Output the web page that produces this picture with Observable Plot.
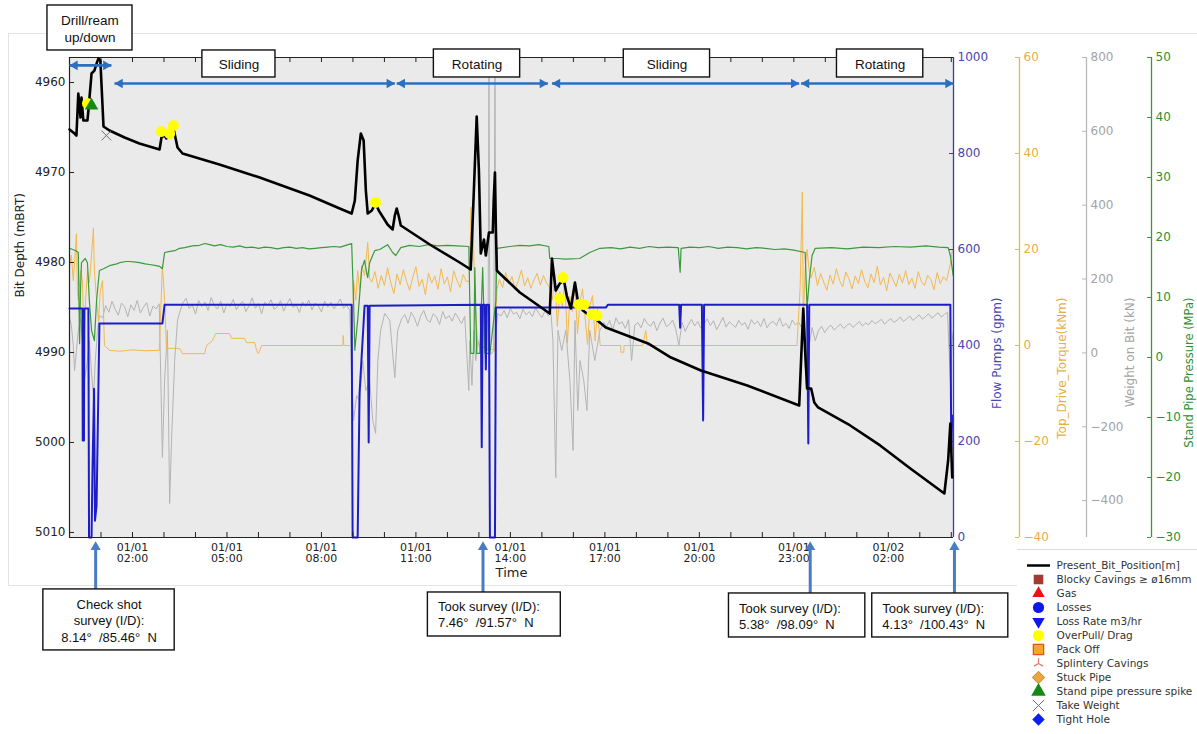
<!DOCTYPE html>
<html><head><meta charset="utf-8">
<script src="https://cdn.jsdelivr.net/npm/d3@7"></script>
<script src="https://cdn.jsdelivr.net/npm/@observablehq/plot@0.6"></script>
<style>
html,body{margin:0;padding:0;background:#fff;}
#chart{position:relative;width:1197px;height:734px;overflow:hidden;background:#fff;font-family:"DejaVu Sans",sans-serif;}
#chart svg{position:absolute;left:0;top:0;}
#figbox{position:absolute;left:8px;top:33px;width:1189px;height:553px;border:1px solid #e4e4e4;border-right:none;box-sizing:border-box;}
</style></head>
<body><div id="chart"><div id="figbox"></div></div>
<script>
// ================= DATA (time in hours after 01/01 00:00) =================
const depthSeries = [[0,4965.22],[0.16,4965.67],[0.22,4965.89],[0.28,4961.22],[0.35,4963.89],[0.38,4961.67],[0.44,4964.22],[0.57,4964.22],[0.60,4963.11],[0.70,4959.0],[0.79,4958.67],[0.86,4957.89],[0.92,4957.33],[0.98,4957.56],[1.08,4964.89],[1.27,4965.33],[1.75,4966.11],[2.22,4966.78],[2.86,4967.44],[2.92,4966.11],[3.02,4965.89],[3.08,4966.22],[3.18,4965.56],[3.27,4964.56],[3.43,4967.22],[3.59,4967.89],[4.76,4969.11],[6.04,4970.56],[7.62,4972.56],[8.58,4974.0],[8.96,4974.56],[9.06,4973.11],[9.15,4968.67],[9.25,4965.67],[9.34,4966.44],[9.41,4972.0],[9.47,4974.56],[9.60,4974.22],[9.72,4973.44],[9.82,4974.22],[10.10,4975.78],[10.26,4976.33],[10.33,4974.78],[10.39,4974.0],[10.45,4974.78],[10.52,4975.89],[11.44,4978.0],[12.39,4980.0],[12.74,4980.78],[12.84,4972.0],[12.93,4963.78],[13.00,4969.78],[13.06,4979.0],[13.16,4977.44],[13.22,4979.22],[13.32,4976.67],[13.44,4976.67],[13.47,4973.11],[13.51,4970.0],[13.54,4976.44],[13.57,4980.89],[13.63,4981.11],[14.30,4983.33],[15.25,4985.67],[15.32,4979.56],[15.44,4983.11],[15.57,4982.33],[15.70,4982.0],[15.79,4983.67],[15.92,4985.11],[16.05,4982.22],[16.14,4984.22],[16.30,4985.33],[16.43,4985.67],[16.65,4986.11],[17.03,4987.22],[18.37,4989.0],[19.10,4990.56],[20.05,4992.0],[21.52,4993.67],[23.17,4995.89],[23.23,4990.89],[23.30,4985.11],[23.36,4989.78],[23.42,4994.0],[23.55,4994.0],[23.65,4995.56],[23.77,4996.11],[24.79,4998.11],[25.74,5000.33],[26.70,5002.89],[27.78,5005.67],[27.90,5002.0],[27.97,4997.89],[28.03,5003.89]];

const flowSeries = [[0,477],[0.41,477],[0.42,202],[0.46,202],[0.47,477],[0.60,477],[0.62,0],[0.70,0],[0.73,140],[0.78,310],[0.81,35],[0.86,67],[0.95,446],[2.95,446],[3.02,485],[8.96,485],[8.99,0],[9.15,0],[9.21,300],[9.37,483],[9.47,483],[9.50,198],[9.53,483],[13.06,485],[13.09,188],[13.12,485],[13.19,485],[13.22,350],[13.25,485],[13.32,485],[13.35,0],[13.51,0],[13.54,479],[17.03,479],[17.10,485],[19.36,485],[19.39,437],[19.42,485],[20.08,485],[20.12,244],[20.15,485],[23.42,485],[23.46,196],[23.49,485],[27.97,485],[28.0,181],[28.03,254],[28.06,244]];

const sppSeries = [[0,18.2],[0.1,18.0],[0.2,17.8],[0.28,17.5],[0.30,9.5],[0.32,2.3],[0.35,11.2],[0.38,15.8],[0.5,16.5],[0.57,15.8],[0.63,9.5],[0.70,4.5],[0.79,2.8],[0.86,9.5],[0.95,14.5],[1.08,14.8],[1.27,15.3],[1.5,15.6],[1.59,15.8],[1.8,16.0],[1.91,16.0],[2.1,15.9],[2.22,15.8],[2.4,15.6],[2.54,15.5],[2.75,15.3],[2.86,15.2],[2.95,14.8],[3.02,17.5],[3.2,17.7],[3.34,17.8],[3.5,18.2],[3.66,18.3],[3.9,18.6],[4.13,18.7],[4.3,19.0],[4.45,18.8],[4.6,18.6],[4.8,18.8],[5.0,18.5],[5.2,18.4],[5.4,18.6],[5.6,18.3],[5.8,18.4],[6.0,18.2],[6.2,18.4],[6.4,18.3],[6.6,18.1],[6.8,18.3],[7.0,18.4],[7.2,18.2],[7.4,18.3],[7.6,18.1],[7.8,18.2],[8.0,18.3],[8.2,18.4],[8.4,18.5],[8.6,18.4],[8.9,18.9],[8.96,19.0],[9.02,9.5],[9.06,1.2],[9.15,6.2],[9.28,14.8],[9.37,16.2],[9.44,14.0],[9.47,13.3],[9.53,15.8],[9.69,17.8],[9.85,18.0],[10.10,18.8],[10.26,17.5],[10.36,17.0],[10.52,18.3],[10.8,18.7],[11.1,18.5],[11.4,18.8],[11.7,18.6],[12.0,18.7],[12.3,18.6],[12.68,18.5],[12.71,9.5],[12.74,0.7],[12.84,0.7],[12.87,15.0],[12.93,0.7],[13.03,0.7],[13.12,15.0],[13.19,0.7],[13.35,0.7],[13.54,9.5],[13.57,18.2],[13.98,18.5],[14.3,18.7],[14.6,18.6],[14.9,18.8],[15.22,18.5],[15.25,16.5],[15.5,16.5],[15.75,16.4],[16.2,16.5],[16.52,17.5],[16.84,18.2],[17.2,18.3],[17.5,18.1],[17.8,18.4],[18.1,18.2],[18.4,18.5],[18.7,18.3],[19.0,18.4],[19.33,18.3],[19.39,14.2],[19.42,18.2],[19.7,18.4],[20.0,18.3],[20.3,18.5],[20.6,18.2],[20.9,18.4],[21.2,18.3],[21.5,18.1],[21.8,18.3],[22.1,18.2],[22.4,18.0],[22.7,18.1],[23.0,17.9],[23.36,17.5],[23.42,8.3],[23.49,12.8],[23.58,17.0],[23.68,18.2],[24.2,18.3],[24.7,18.1],[25.2,18.4],[25.7,18.3],[26.2,18.5],[26.7,18.4],[27.2,18.6],[27.6,18.4],[27.9,18.3],[27.97,17.0],[28.03,14.8],[28.06,13.7]];

// Top drive torque (kNm): event pairs + noisy rotating stretches (value lists, 0.1 h sampling)
const torqueA = [[0,16.7],[0.06,18.8],[0.12,13.5],[0.16,17.3],[0.22,23.3],[0.25,11.5],[0.28,9.4],[0.35,15.6],[0.41,13.5],[0.47,0.0],[0.51,9.4],[0.57,15.6],[0.63,13.1],[0.70,18.8],[0.76,24.4],[0.79,15.6],[0.86,9.4],[0.92,5.2],[0.98,11.5],[1.05,13.5],[1.11,0],[1.27,-1.0],[1.6,-1.2],[2.0,-0.9],[2.4,-1.1],[2.85,-1.0],[2.86,0.4],[2.95,16.7],[3.02,9.4],[3.08,-0.6],[3.50,-0.6],[3.59,-1.7],[4.29,-1.7],[4.35,0],[4.54,1.0],[4.64,2.5],[5.08,2.5],[5.15,1.5],[5.56,1.5],[5.62,0.6],[5.88,0.6],[5.94,-1.0],[6.0,-1.7],[6.04,-1.0],[6.10,0],[7.31,0],[8.68,0],[8.69,2.1],[8.71,0],[8.96,0],[9.02,13.5],[9.09,9.4],[9.15,15.6],[9.21,11.5],[9.28,16.7],[9.37,14.6],[9.47,21.5],[9.53,14.0]];
const torqueNoise1 = [13.2,15.4,11.9,14.6,12.5,16.2,13.1,10.8,14.9,12.7,15.8,13.4,11.5,14.2,16.4,12.3,13.8,10.6,15.1,13.0,14.5,11.7,16.0,12.8,14.3,11.2,15.6,13.6,12.1,14.8,13.3];
const torqueB = [[12.70,13.5],[12.73,21.9],[12.75,28.8],[12.78,17.7],[12.81,27.1],[12.87,9.4],[12.97,0],[13.51,-1.0],[13.57,11.5]];
const torqueNoise2 = [13.8,12.1,15.2,12.9,14.4,11.6,13.5,15.7,12.4,14.1,11.9,13.7,15.0,12.6,14.6,13.0];
const torqueNoise3 = [12.0,9.5,14.8,4.0,11.2,8.0,13.5,0.5,10.2,7.1,12.6,2.5,9.0,11.8,6.0,0.2,8.5,10.4,1.0,7.7,0.0];
const torqueC = [[16.9,0],[17.5,0],[17.51,-1.4],[17.6,-1.4],[17.61,0],[18.2,0],[18.3,3.1],[18.35,0],[19.0,0],[20.5,0],[22.5,0],[23.1,0],[23.2,12.0],[23.27,32.0],[23.3,5.0],[23.36,16.0],[23.42,20.0],[23.49,15.5]];
const torqueNoise4 = [14.1,16.3,12.4,15.0,13.2,11.5,14.7,12.8,16.0,13.6,12.2,15.3,13.9,11.8,14.5,12.9,15.8,13.4,12.0,14.9,13.1,16.5,12.6,14.2,11.4,15.1,13.7,12.3,14.8,13.0,15.6,12.7,14.0,11.9,15.4,13.3,12.5,14.6,13.8,11.6,15.2,12.9,14.3,13.5];
const torqueD = [[27.97,17.1],[28.03,19.8]];

// Weight on bit (kN)
const wobA = [[0,96],[0.06,74],[0.12,20],[0.16,-48],[0.22,6],[0.28,61],[0.35,93],[0.41,33],[0.47,-75],[0.57,-21],[0.63,33],[0.70,-53],[0.76,-121],[0.82,-21],[0.89,61],[0.95,101]];
const wobNoise1 = [95,128,110,140,118,102,135,125,98,130,115,142,108,124,136,100,127,119,133];
const wobC = [[2.95,-283],[3.02,-75],[3.11,61],[3.18,-408],[3.24,-237],[3.34,-21],[3.43,88]];
const wobNoise2 = [110,135,148,120,130,105,142,125,138,115,150,128,119,140,108,133,126,145,117,131,139,112,127,149,121,134,106,137,129,144,118,125,141,113,132,147,123,130,109,138,126,143,116,135,128,111,140,124,137,119,132,146,121,129,115];
const wobE = [[8.96,-75],[9.02,-183],[9.12,-116],[9.21,-129],[9.31,-21],[9.41,-102],[9.53,-75],[9.63,-183],[9.72,-218],[9.79,-21],[9.88,61],[10.01,107],[10.17,88],[10.33,-67],[10.42,61],[10.55,93]];
const wobNoise3 = [104,80,110,95,72,100,115,90,83,106,98,77,112,92,101,86,108,94,79,99];
const wobG = [[12.68,-102],[12.71,33],[12.78,-88],[12.84,61],[12.90,-21],[12.97,33],[13.06,6],[13.19,20],[13.29,6],[13.32,800],[13.35,-7],[13.47,6],[13.51,800],[13.54,61],[13.60,107]];
const wobNoise4 = [100,115,95,120,105,110,92,118,103,112,98,122,107,96,114,101];
const wobI = [[15.29,107],[15.35,33],[15.44,-338],[15.51,61],[15.63,6],[15.76,61],[15.89,-75],[15.99,-264],[16.05,88],[16.14,-156],[16.21,-21],[16.33,-75],[16.43,-156],[16.52,61],[16.68,-21],[16.84,61],[16.97,82]];
const wobNoise5 = [70,88,62,95,78,84,66,90,-21,75,82,68,93,79,72,86,60,81,94,71,77,89,65,20,83,58,76,91,73,85,67,80,92,74,87,63,79,96,70,84,77,69,88,75,82,64,90,78,86,71,93,68,81,85,74,95,72,80,66,89,76,83];
const wobK = [[23.30,61],[23.36,-40],[23.46,6],[23.58,69],[23.68,33]];
const wobNoise6 = [60,72,55,68,75,62,70,78,66,74,80,69,77,85,73,81,76,88,79,84,91,78,86,93,82,89,97,85,92,100,88,95,103,91,98,106,94,101,109,97,104,110];
const wobM = [[27.97,-75],[28.03,33],[28.06,60]];

// Event markers [hour, depth]
const overpull = [[0.57,4962.33],[2.92,4965.44],[3.18,4965.67],[3.30,4964.78],[9.72,4973.33],[15.67,4981.67],[15.57,4984.0],[16.18,4984.67],[16.33,4984.67],[16.59,4985.78],[16.75,4985.89]];
const sppSpike = [[0.70,4962.56]];
const takeWeight = [[1.17,4965.89]];

// Axis ticks
const depthTicks = [4960,4970,4980,4990,5000,5010];
const flowTicks = [0,200,400,600,800,1000];
const torqueTicks = [-40,-20,0,20,40,60];
const wobTicks = [-400,-200,0,200,400,600,800];
const sppTicks = [-30,-20,-10,0,10,20,30,40,50];
const majorTickHours = [2,5,8,11,14,17,20,23,26];
const hourTicks = [1,2,3,4,5,6,7,8,9,10,11,12,13,14,15,16,17,18,19,20,21,22,23,24,25,26,27,28];

// Annotations
const phaseLabels = ["Drill/ream\nup/down","Sliding","Rotating","Sliding","Rotating"];
const phaseStart = [0,1.43,10.39,15.32,23.23];
const phaseEnd = [1.33,10.33,15.19,23.17,28.07];
const surveyTime = [0.83,13.13,23.52,28.10];
const surveyText = ["Check shot\nsurvey (I/D):\n8.14\u00b0\u00a0\u00a0/85.46\u00b0\u00a0\u00a0N",
  "Took survey (I/D):\n7.46\u00b0\u00a0\u00a0/91.57\u00b0\u00a0\u00a0N",
  "Took survey (I/D):\n5.38\u00b0\u00a0\u00a0/98.09\u00b0\u00a0\u00a0N",
  "Took survey (I/D):\n4.13\u00b0\u00a0\u00a0/100.43\u00b0\u00a0\u00a0N"];

const legendNames = ["Present_Bit_Position[m]","Blocky Cavings \u2265 \u00f816mm","Gas","Losses","Loss Rate m3/hr","OverPull/ Drag","Pack Off","Splintery Cavings","Stuck Pipe","Stand pipe pressure spike","Take Weight","Tight Hole"];

// ================= LAYOUT (annotation placement) =================
const phaseArrowDepth = [4958.1,4960.11,4960.11,4960.11,4960.11];
const phaseBoxCenter = [0.65,5.38,12.94,18.97,25.74];
const phaseBoxHalf = [1.35,1.16,1.37,1.37,1.37];
const phaseBoxTop = [4951.44,4956.44,4956.33,4956.33,4956.33];
const phaseBoxBottom = [4956.44,4959.44,4959.44,4959.44,4959.44];
const surveyBoxX1 = [-0.83,11.38,20.94,25.49];
const surveyBoxX2 = [3.34,15.6,25.27,29.81];
const surveyBoxTop = [5016.33,5016.67,5016.78,5016.78];
const surveyBoxBottom = [5023.11,5021.56,5021.67,5021.67];
const surveyTextMid = [5019.72,5019.0,5019.22,5019.22];

// ================= BUILD =================
const T0 = Date.UTC(2021,0,1);
const T = h => new Date(T0 + h*3600000);
const sampled = (start, step, vals) => vals.map((v,i) => [start + i*step, v]);

const torqueSeries = [...torqueA, ...sampled(9.6,0.1,torqueNoise1), ...torqueB, ...sampled(13.65,0.1,torqueNoise2),
  ...sampled(15.25,0.08,torqueNoise3), ...torqueC, ...sampled(23.55,0.1,torqueNoise4), ...torqueD];
const wobSeries = [...wobA, ...sampled(1.05,0.1,wobNoise1), ...wobC, ...sampled(3.5,0.1,wobNoise2), ...wobE,
  ...sampled(10.65,0.1,wobNoise3), ...wobG, ...sampled(13.7,0.1,wobNoise4), ...wobI, ...sampled(17.05,0.1,wobNoise5),
  ...wobK, ...sampled(23.78,0.1,wobNoise6), ...wobM];

const W = 1197, H = 734;
const xDomain = [T(0), T(28.07)];
const depthDomain = [5010.56, 4957.22];
const fontMain = "'DejaVu Sans', sans-serif";
const fontBox = "'Liberation Sans', Arial, sans-serif";
const common = {width: W, height: H, marginLeft: 69, marginRight: 244, marginTop: 57, marginBottom: 197,
  style: {background: "transparent", overflow: "visible", fontFamily: fontMain, fontSize: "12px", color: "#222"}};
const fmt = d3.format("d");
const X = d => T(d[0]);
const Y = d => d[1];

function rightAxis({domain, ticks, offset, color, spine, label, labelOffset, labelSize = 12}) {
  return [
    Plot.ruleX([xDomain[1]], {y1: domain[0], y2: domain[1], dx: offset, stroke: spine, strokeWidth: 1.3}),
    Plot.ruleY(ticks, {y: d => d, insetLeft: 880, dx: offset, stroke: spine, strokeWidth: 1}),
    Plot.axisY({anchor: "right", ticks, tickSize: 0, tickPadding: 4, dx: offset, color, fontSize: 12, label: null, tickFormat: fmt}),
    Plot.text([label], {frameAnchor: "right", dx: labelOffset, rotate: -90, text: d => d, fill: color, fontSize: labelSize})
  ];
}

const chart = document.getElementById("chart");

// Layer 1: weight on bit + plot background
const wobDomain = [-500, 800];
chart.append(Plot.plot({...common, x: {type: "utc", domain: xDomain, axis: null}, y: {domain: wobDomain},
  marks: [
    Plot.frame({fill: "#eaeaea", stroke: null}),
    Plot.line(wobSeries, {x: X, y: Y, stroke: "#b4b4b4", strokeWidth: 1}),
    ...rightAxis({domain: wobDomain, ticks: wobTicks, offset: 133, color: "#a3a3a3", spine: "#b8b8b8", label: "Weight on Bit (kN)", labelOffset: 177})
  ]}));

// Layer 2: torque
const torqueDomain = [-40, 60];
chart.append(Plot.plot({...common, x: {type: "utc", domain: xDomain, axis: null}, y: {domain: torqueDomain},
  marks: [
    Plot.line(torqueSeries, {x: X, y: Y, stroke: "#f2b94f", strokeWidth: 1}),
    ...rightAxis({domain: torqueDomain, ticks: torqueTicks, offset: 66, color: "#e6ae45", spine: "#eab64e", label: "Top_Drive_Torque(kNm)", labelOffset: 109})
  ]}));

// Layer 3: stand pipe pressure
const sppDomain = [-30, 50];
chart.append(Plot.plot({...common, x: {type: "utc", domain: xDomain, axis: null}, y: {domain: sppDomain},
  marks: [
    Plot.line(sppSeries, {x: X, y: Y, stroke: "#3c9a3c", strokeWidth: 1.2}),
    ...rightAxis({domain: sppDomain, ticks: sppTicks, offset: 198, color: "#2f8f2f", spine: "#3b983b", label: "Stand Pipe Pressure (MPa)", labelOffset: 236, labelSize: 11.5})
  ]}));

// Layer 4: flow pumps
const flowDomain = [0, 1000];
chart.append(Plot.plot({...common, x: {type: "utc", domain: xDomain, axis: null}, y: {domain: flowDomain},
  marks: [
    Plot.line(flowSeries, {x: X, y: Y, stroke: "#1d1dc8", strokeWidth: 2}),
    ...rightAxis({domain: flowDomain, ticks: flowTicks, offset: 0, color: "#4646b4", spine: "#3a3ab8", label: "Flow Pumps (gpm)", labelOffset: 44})
  ]}));

// Layer 5: bit depth, events, axes, annotations
const arrowBlue = "#2a6fc0";
const surveyBlue = "#4a7cc4";
const phaseRows = phaseLabels.map((label, i) => ({label, a: phaseStart[i], b: phaseEnd[i], ya: phaseArrowDepth[i],
  c: phaseBoxCenter[i], hw: phaseBoxHalf[i], top: phaseBoxTop[i], bot: phaseBoxBottom[i]}));
const surveyRows = surveyText.map((text, i) => ({text, t: surveyTime[i], x1: surveyBoxX1[i], x2: surveyBoxX2[i],
  top: surveyBoxTop[i], bot: surveyBoxBottom[i], mid: surveyTextMid[i], first: i === 0}));

chart.append(Plot.plot({...common, x: {type: "utc", domain: xDomain}, y: {domain: depthDomain},
  marks: [
    Plot.ruleX(hourTicks, {x: T, insetTop: 475, stroke: "#222"}),
    Plot.ruleX(hourTicks, {x: T, insetBottom: 475, stroke: "#222"}),
    Plot.ruleY(depthTicks, {y: d => d, insetRight: 879, stroke: "#222"}),
    Plot.ruleY(depthDomain, {y: d => d, stroke: "#222", strokeWidth: 1.2}),
    Plot.ruleX([xDomain[0]], {stroke: "#222", strokeWidth: 1.2}),
    Plot.line(depthSeries, {x: X, y: Y, stroke: "#000", strokeWidth: 2.6, strokeLinejoin: "round"}),
    Plot.dot(overpull, {x: X, y: Y, r: 5.5, fill: "#ffff00", stroke: null}),
    Plot.dot(sppSpike, {x: X, y: Y, symbol: "triangle", r: 5, fill: "#138a13"}),
    Plot.dot(takeWeight, {x: X, y: Y, symbol: "times", r: 4.5, stroke: "#6e6e6e", strokeWidth: 1}),
    Plot.axisY({anchor: "left", ticks: depthTicks, tickSize: 0, tickPadding: 4, fontSize: 12, color: "#222", label: null, tickFormat: fmt}),
    Plot.axisX({ticks: majorTickHours.map(T), tickSize: 0, tickPadding: 6, fontSize: 11, color: "#222", label: null, tickFormat: d3.utcFormat("%m/%d\n%H:%M")}),
    Plot.text(["Time"], {frameAnchor: "bottom", dy: 39, text: d => d, fontSize: 13, fill: "#222"}),
    Plot.text(["Bit Depth (mBRT)"], {frameAnchor: "left", dx: -49, rotate: -90, text: d => d, fontSize: 12, fill: "#222"}),
    // phase arrows
    Plot.link(phaseRows, {x1: d => T(d.a), x2: d => T(d.b), y1: "ya", y2: "ya", stroke: arrowBlue, strokeWidth: 2.6}),
    Plot.dot(phaseRows, {x: d => T(d.a), y: "ya", symbol: "triangle", rotate: -90, r: 3.6, dx: 5.4, fill: arrowBlue}),
    Plot.dot(phaseRows, {x: d => T(d.b), y: "ya", symbol: "triangle", rotate: 90, r: 3.6, dx: -5.4, fill: arrowBlue}),
    Plot.rect(phaseRows, {x1: d => T(d.c - d.hw), x2: d => T(d.c + d.hw), y1: "top", y2: "bot", fill: "white", stroke: "#111", strokeWidth: 1.4}),
    Plot.text(phaseRows, {x: d => T(d.c), y: d => (d.top + d.bot) / 2, text: "label", fontFamily: fontBox, fontSize: 13.5, fill: "#111", lineHeight: 1.25}),
    // survey arrows
    Plot.link(surveyRows, {x1: d => T(d.t), x2: d => T(d.t), y1: "top", y2: 5011.6, stroke: surveyBlue, strokeWidth: 3}),
    Plot.dot(surveyRows, {x: d => T(d.t), y: 5011.0, symbol: "triangle", r: 3.8, dy: 5.6, fill: surveyBlue}),
    Plot.rect(surveyRows, {x1: d => T(d.x1), x2: d => T(d.x2), y1: "top", y2: "bot", fill: "white", stroke: "#111", strokeWidth: 1.4}),
    Plot.text(surveyRows.filter(d => d.first), {x: d => T((d.x1 + d.x2) / 2), y: "mid", text: "text", fontFamily: fontBox, fontSize: 13, fill: "#111", lineHeight: 1.27}),
    Plot.text(surveyRows.filter(d => !d.first), {x: d => T(d.x1 + 0.32), y: "mid", text: "text", textAnchor: "start", fontFamily: fontBox, fontSize: 13, fill: "#111", lineHeight: 1.25})
  ]}));

// Legend
const triDown = {draw(ctx, size) { const y = -Math.sqrt(size / (Math.sqrt(3) * 3)); ctx.moveTo(0, -y * 2); ctx.lineTo(-Math.sqrt(3) * y, y); ctx.lineTo(Math.sqrt(3) * y, y); ctx.closePath(); }};
const triUp = {draw(ctx, size) { const r = Math.sqrt(size / Math.PI) * 1.1; ctx.moveTo(0, 0); ctx.lineTo(0, -r); ctx.moveTo(0, 0); ctx.lineTo(-r * 0.866, r * 0.5); ctx.moveTo(0, 0); ctx.lineTo(r * 0.866, r * 0.5); }};
const legendSym = [
  null,
  {symbol: "square", r: 5.4, fill: "#a33a32"},
  {symbol: "triangle", r: 4.6, fill: "#ee1111"},
  {symbol: "circle", r: 5.6, fill: "#1018e8"},
  {symbol: triDown, r: 4.6, fill: "#1018e8"},
  {symbol: "circle", r: 5.6, fill: "#ffff00"},
  {symbol: "square", r: 5.8, fill: "#f7a52a", stroke: "#e2541a", strokeWidth: 1.3},
  {symbol: triUp, r: 4.8, fill: "none", stroke: "#e07a68", strokeWidth: 1.2},
  {symbol: "diamond2", r: 5.6, fill: "#e9a542", stroke: "#c9862a", strokeWidth: 1},
  {symbol: "triangle", r: 5.4, fill: "#138a13"},
  {symbol: "times", r: 5.2, stroke: "#6e6e6e", strokeWidth: 1},
  {symbol: "diamond2", r: 5.6, fill: "#0a1ef0"}
];
const legend = Plot.plot({width: 180, height: 185, margin: 0,
  style: {background: "white", overflow: "visible", fontFamily: fontMain, fontSize: "10.5px", borderTop: "1px solid #dcdcdc"},
  x: {domain: [0, 180], range: [0, 180], axis: null},
  y: {type: "point", domain: legendNames, range: [14, 170], padding: 0, axis: null},
  marks: [
    Plot.ruleY([legendNames[0]], {y: d => d, x1: 10, x2: 33, stroke: "#000", strokeWidth: 2.5}),
    ...legendSym.map((s, i) => s ? Plot.dot([legendNames[i]], {x: 21, y: d => d, ...s}) : null).filter(Boolean),
    Plot.text(legendNames, {x: 39, y: d => d, text: d => d, textAnchor: "start", fill: "#333"})
  ]});
legend.style.left = "1017px";
legend.style.top = "549px";
chart.append(legend);
</script>
</body></html>
